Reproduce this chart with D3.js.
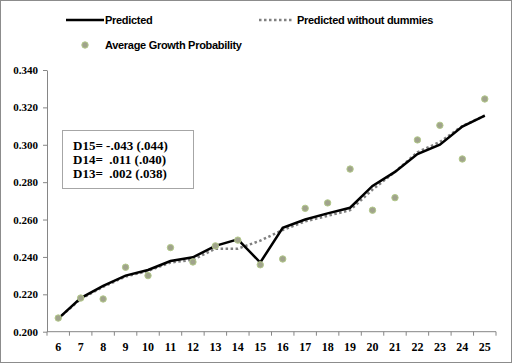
<!DOCTYPE html>
<html>
<head>
<meta charset="utf-8">
<script src="https://cdn.jsdelivr.net/npm/d3@7"></script>
<style>
  body { margin: 0; background: #fff; }
  svg { display: block; }
</style>
</head>
<body>
<script>
let categories = [6, 7, 8, 9, 10, 11, 12, 13, 14, 15, 16, 17, 18, 19, 20, 21, 22, 23, 24, 25];

let predicted = [0.207, 0.218, 0.2245, 0.230, 0.233, 0.2378, 0.2398, 0.2459, 0.2494, 0.237,
    0.2556, 0.260, 0.2633, 0.2663, 0.278, 0.2855, 0.295, 0.300, 0.3097, 0.3156];

let predictedNoDummies = [0.207, 0.2175, 0.224, 0.2295, 0.2325, 0.237, 0.2385, 0.2444, 0.2444, 0.2487,
    0.2544, 0.259, 0.262, 0.265, 0.276, 0.2855, 0.296, 0.3015, 0.310, 0.3156];

let avgGrowth = [0.2073, 0.218, 0.2175, 0.2345, 0.230, 0.245, 0.2373, 0.2459, 0.249, 0.2358,
    0.2389, 0.266, 0.2689, 0.287, 0.265, 0.2717, 0.3026, 0.3104, 0.2924, 0.3245];

let yTicks = [0.200, 0.220, 0.240, 0.260, 0.280, 0.300, 0.320, 0.340];

let boxLines = ["D15= -.043 (.044)", "D14=  .011 (.040)", "D13=  .002 (.038)"];

let svgWidth = 512,
    svgHeight = 363,
    plot = {left: 47, right: 496, top: 70, bottom: 331.7};

let svgContainer = d3.select("body").append("svg")
    .attr("width", svgWidth)
    .attr("height", svgHeight);

// outer frame
svgContainer.append("rect")
    .attr("x", 0.5).attr("y", 0.5)
    .attr("width", svgWidth - 1).attr("height", svgHeight - 1)
    .attr("fill", "#fff")
    .attr("stroke", "#8c8c8c");

let xScale = d3.scaleBand().domain(categories).range([plot.left, plot.right]);
let yScale = d3.scaleLinear().domain([0.2, 0.34]).range([plot.bottom, plot.top]);
let cx = d => xScale(d) + xScale.bandwidth() / 2;

// y axis
let yAxis = d3.axisLeft(yScale).tickValues(yTicks).tickFormat(d3.format(".3f")).tickSize(4).tickSizeOuter(0);
let gy = svgContainer.append("g")
    .attr("transform", "translate(" + plot.left + ",0)")
    .call(yAxis);
gy.select(".domain").attr("stroke", "#868686");
gy.selectAll(".tick line").attr("stroke", "#868686");
gy.selectAll(".tick text")
    .attr("x", -9)
    .style("font-family", "'Liberation Serif', serif")
    .style("font-weight", "bold")
    .style("font-size", "11px")
    .attr("fill", "#000");

// x axis with ticks on category boundaries
let gx = svgContainer.append("g")
    .attr("transform", "translate(0," + plot.bottom + ")");
gx.append("line")
    .attr("x1", plot.left).attr("x2", plot.right)
    .attr("stroke", "#868686");
let bounds = categories.map(c => xScale(c)).concat([plot.right]);
gx.selectAll("line.tk").data(bounds).join("line")
    .attr("class", "tk")
    .attr("x1", d => d).attr("x2", d => d)
    .attr("y1", 0).attr("y2", 4)
    .attr("stroke", "#868686");
gx.selectAll("text").data(categories).join("text")
    .attr("x", d => cx(d))
    .attr("y", 19)
    .attr("text-anchor", "middle")
    .style("font-family", "'Liberation Serif', serif")
    .style("font-weight", "bold")
    .style("font-size", "12px")
    .text(d => d);

let line = d3.line().x((d, i) => cx(categories[i])).y(d => yScale(d));

// predicted without dummies (dotted)
svgContainer.append("path")
    .datum(predictedNoDummies)
    .attr("d", line)
    .attr("fill", "none")
    .attr("stroke", "#808080")
    .attr("stroke-width", 2.5)
    .attr("stroke-dasharray", "2.5,2.5");

// predicted
svgContainer.append("path")
    .datum(predicted)
    .attr("d", line)
    .attr("fill", "none")
    .attr("stroke", "#000")
    .attr("stroke-width", 2.5);

// average growth probability points
svgContainer.selectAll("circle.pt").data(avgGrowth).join("circle")
    .attr("class", "pt")
    .attr("cx", (d, i) => cx(categories[i]))
    .attr("cy", d => yScale(d))
    .attr("r", 3.2)
    .attr("fill", "#a0a38c")
    .attr("stroke", "#b3c98a")
    .attr("stroke-width", 1);

// legend
let legendFont = "'Liberation Sans', Arial, sans-serif";
let leg = svgContainer.append("g");
leg.append("line")
    .attr("x1", 66).attr("x2", 104).attr("y1", 20).attr("y2", 20)
    .attr("stroke", "#000").attr("stroke-width", 2.5);
leg.append("text").attr("x", 105).attr("y", 24).text("Predicted");
leg.append("line")
    .attr("x1", 259).attr("x2", 292).attr("y1", 20).attr("y2", 20)
    .attr("stroke", "#808080").attr("stroke-width", 2.5)
    .attr("stroke-dasharray", "2.5,2.5");
leg.append("text").attr("x", 297).attr("y", 24).text("Predicted without dummies");
leg.append("circle")
    .attr("cx", 85).attr("cy", 45).attr("r", 3.2)
    .attr("fill", "#a0a38c").attr("stroke", "#b3c98a");
leg.append("text").attr("x", 105).attr("y", 49).text("Average Growth Probability");
leg.selectAll("text")
    .style("font-family", legendFont)
    .style("font-weight", "bold")
    .style("font-size", "11px")
    .style("letter-spacing", "-0.3px");

// coefficient box
let box = svgContainer.append("g");
box.append("rect")
    .attr("x", 62.5).attr("y", 130.5)
    .attr("width", 131).attr("height", 58)
    .attr("fill", "#fff")
    .attr("stroke", "#a6a6a6");
box.selectAll("text").data(boxLines).join("text")
    .attr("x", 73)
    .attr("y", (d, i) => 149.5 + i * 14)
    .style("font-family", "'Liberation Serif', serif")
    .style("font-weight", "bold")
    .style("font-size", "13px")
    .style("white-space", "pre")
    .attr("xml:space", "preserve")
    .text(d => d);
</script>
</body>
</html>
